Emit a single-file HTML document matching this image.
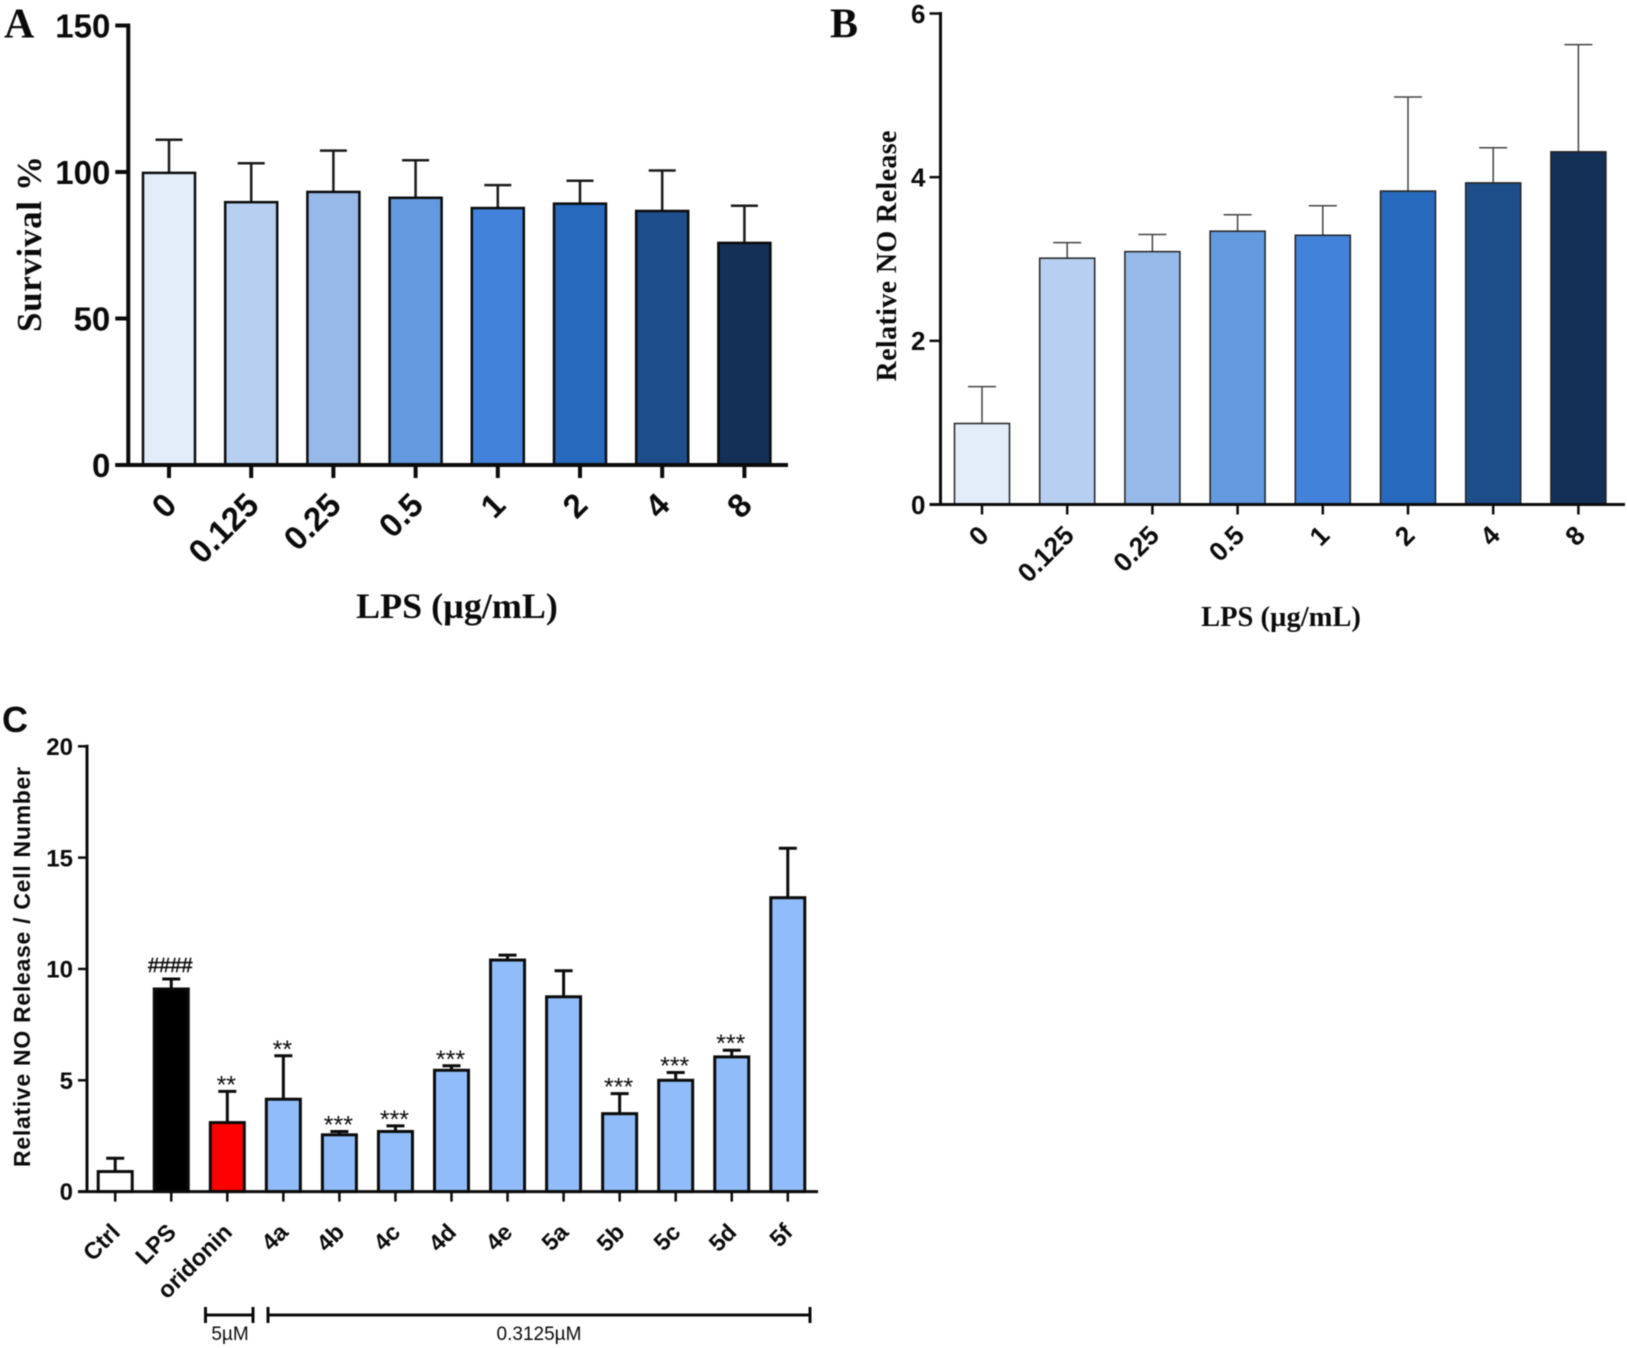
<!DOCTYPE html>
<html lang="en">
<head>
<meta charset="utf-8">
<title>Survival and NO release bar charts</title>
<style>
html,body{margin:0;padding:0;background:#fff;width:1627px;height:1348px;overflow:hidden}
svg{display:block;filter:blur(0.4px)}
text{fill:#0b0b0b}
.sans{font-family:"Liberation Sans",sans-serif}
.serif{font-family:"Liberation Serif",serif}
</style>
</head>
<body>
<svg id="figure" width="1627" height="1348" viewBox="0 0 1627 1348" xmlns="http://www.w3.org/2000/svg">
  <rect x="0" y="0" width="1627" height="1348" fill="#fff"/>
  <text class="serif" font-weight="bold" font-size="42" x="4" y="37.5">A</text>
  <text class="serif" font-weight="bold" font-size="42" x="830" y="37.5">B</text>
  <text class="sans" font-weight="bold" font-size="36" x="2" y="732">C</text>
  <text class="serif" font-weight="bold" font-size="35" text-anchor="middle" textLength="176" lengthAdjust="spacing" transform="translate(41,244) rotate(-90)">Survival %</text>
  <text class="serif" font-weight="bold" font-size="36" text-anchor="middle" x="457" y="618">LPS (µg/mL)</text>
  <text class="serif" font-weight="bold" font-size="28" text-anchor="middle" textLength="251" lengthAdjust="spacing" transform="translate(896,256) rotate(-90)">Relative NO Release</text>
  <text class="serif" font-weight="bold" font-size="28.5" text-anchor="middle" x="1281" y="626">LPS (µg/mL)</text>
  <text class="sans" font-weight="bold" font-size="23" text-anchor="middle" textLength="400" lengthAdjust="spacing" transform="translate(30,967) rotate(-90)">Relative NO Release / Cell Number</text>
  <g stroke="#0b0b0b" stroke-width="3" fill="none">
    <path d="M205.5 1307V1323M205.5 1315H253M253 1307V1323"/>
  </g>
  <g stroke="#0b0b0b" stroke-width="3" fill="none">
    <path d="M268 1307V1323M268 1315H810M810 1307V1323"/>
  </g>
  <text class="sans" font-size="19" text-anchor="middle" x="230" y="1340">5µM</text>
  <text class="sans" font-size="19" text-anchor="middle" x="539" y="1340">0.3125µM</text>
</svg>
<script>
// Panel A data
var aCategories = ['0', '0.125', '0.25', '0.5', '1', '2', '4', '8'];
var aMeans = [99.7, 89.7, 93.2, 91.2, 87.7, 89.2, 86.7, 75.8];
var aErrorTops = [111, 103, 107.3, 104, 95.5, 97, 100.5, 88.5];
var aTickLabels = [0, 50, 100, 150];
// Panel B data
var bCategories = ['0', '0.125', '0.25', '0.5', '1', '2', '4', '8'];
var bMeans = [0.99, 3.01, 3.09, 3.34, 3.29, 3.83, 3.93, 4.31];
var bErrorTops = [1.44, 3.2, 3.3, 3.54, 3.65, 4.98, 4.36, 5.62];
var bTickLabels = [0, 2, 4, 6];
// Panel C data
var cCategories = ['Ctrl', 'LPS', 'oridonin', '4a', '4b', '4c', '4d', '4e', '5a', '5b', '5c', '5d', '5f'];
var cMeans = [0.9, 9.1, 3.1, 4.15, 2.55, 2.7, 5.45, 10.4, 8.75, 3.5, 5.0, 6.05, 13.2];
var cErrorTops = [1.5, 9.55, 4.5, 6.1, 2.7, 2.95, 5.65, 10.62, 9.92, 4.4, 5.35, 6.35, 15.42];
var cSignificance = ['', '####', '**', '**', '***', '***', '***', '', '', '***', '***', '***', ''];
var cTickLabels = [0, 5, 10, 15, 20];

var blueRamp = ['#e3edf9', '#b7cff0', '#97b9e9', '#6299df', '#4282da', '#2769bc', '#1d4e8a', '#143057'];
var compoundFill = '#90bdf9';
var cFills = ['#ffffff', '#000000', '#ff0000'];

var svg = document.getElementById('figure');
var NS = 'http://www.w3.org/2000/svg';

function mk(tag, attrs, parent) {
  var el = document.createElementNS(NS, tag);
  for (var k in attrs) el.setAttribute(k, attrs[k]);
  (parent || svg).appendChild(el);
  return el;
}

function drawPanel(p) {
  var vMax = p.ticks[p.ticks.length - 1];
  function yPos(v) { return p.zeroY - (v / vMax) * (p.zeroY - p.topY); }
  function xPos(i) { return p.firstX + i * p.stepX; }

  var group = mk('g', {});
  
  

  p.means.forEach(function (v, i) {
    var cx = xPos(i);
    var err = mk('path', {
      d: 'M' + cx + ' ' + yPos(v) + 'V' + yPos(p.errs[i]) + 'M' + (cx - p.capW / 2) + ' ' + yPos(p.errs[i]) + 'H' + (cx + p.capW / 2),
      fill: 'none', stroke: p.errColor, 'stroke-width': p.errW
    }, group);
    
    

    var bar = mk('rect', {
      x: cx - p.barW / 2, y: yPos(v), width: p.barW, height: p.zeroY - yPos(v),
      fill: p.fill(i), stroke: p.barStroke, 'stroke-width': p.barSW
    }, group);
    
    

    var tick = mk('line', {
      x1: cx, x2: cx, y1: p.zeroY, y2: p.zeroY + p.xTickLen,
      stroke: '#0b0b0b', 'stroke-width': p.tickW
    }, group);
    
    

    var lx = cx + p.xLabelDx, ly = p.zeroY + p.xLabelDy;
    var label = mk('text', {
      'class': 'sans', 'font-weight': 'bold', 'font-size': p.xFont, 'text-anchor': 'end',
      transform: 'translate(' + lx + ',' + ly + ') rotate(-45)'
    }, group);
    label.textContent = p.cats[i];
    
    

    if (p.marks && p.marks[i]) {
      var isHash = p.marks[i] === '####';
      var mark = mk('text', {
        'class': 'sans', 'font-size': isHash ? p.hashFont : p.markFont, 'text-anchor': 'middle',
        stroke: isHash ? '#0b0b0b' : 'none', 'stroke-width': isHash ? 0.5 : 0,
        x: cx - 1, y: yPos(p.errs[i]) + (isHash ? -7 : 2)
      }, group);
      mark.textContent = p.marks[i];
      
      
    }
  });

  p.ticks.forEach(function (t) {
    var yt = yPos(t);
    var tick = mk('line', {
      x1: p.axisX, x2: p.axisX - p.yTickLen, y1: yt, y2: yt,
      stroke: '#0b0b0b', 'stroke-width': p.tickW
    }, group);
    
    

    var label = mk('text', {
      'class': 'sans', 'font-weight': 'bold', 'font-size': p.yFont, 'text-anchor': 'end',
      x: p.axisX - p.yLabelGap, y: yt + p.yFont * 0.36
    }, group);
    label.textContent = t;
    
    
  });

  var yAxis = mk('line', {
    x1: p.axisX, x2: p.axisX, y1: p.topY - p.axisW / 2, y2: p.zeroY,
    stroke: '#0b0b0b', 'stroke-width': p.axisW
  }, group);
  
  

  var xAxis = mk('line', {
    x1: p.axisX - p.yTickLen, x2: p.axisEnd, y1: p.zeroY, y2: p.zeroY,
    stroke: '#0b0b0b', 'stroke-width': p.axisW
  }, group);
  
  
}

drawPanel({
  id: 'panel-a', cats: aCategories, means: aMeans, errs: aErrorTops, ticks: aTickLabels,
  fill: function (i) { return blueRamp[i]; },
  topY: 25.5, zeroY: 465, axisX: 128.3, axisEnd: 788, firstX: 169, stepX: 82.2,
  barW: 52, barSW: 2.5, barStroke: '#0b0b0b', capW: 27, errW: 2.5, errColor: '#1a1a1a',
  tickW: 4, axisW: 4, xTickLen: 13, yTickLen: 13, xFont: 33, yFont: 33, yLabelGap: 18,
  xLabelDx: 9.5, xLabelDy: 42
});

drawPanel({
  id: 'panel-b', cats: bCategories, means: bMeans, errs: bErrorTops, ticks: bTickLabels,
  fill: function (i) { return blueRamp[i]; },
  topY: 13.5, zeroY: 504.5, axisX: 940.5, axisEnd: 1625, firstX: 982, stepX: 85.2,
  barW: 55, barSW: 1.5, barStroke: '#222', capW: 28, errW: 1.5, errColor: '#444',
  tickW: 2.5, axisW: 3, xTickLen: 10, yTickLen: 11, xFont: 26.5, yFont: 26, yLabelGap: 15,
  xLabelDx: 8.3, xLabelDy: 32.5
});

drawPanel({
  id: 'panel-c', cats: cCategories, means: cMeans, errs: cErrorTops, ticks: cTickLabels,
  fill: function (i) { return i < cFills.length ? cFills[i] : compoundFill; },
  marks: cSignificance, markFont: 25, hashFont: 20,
  topY: 746.3, zeroY: 1191.6, axisX: 87, axisEnd: 818, firstX: 115.2, stepX: 56.05,
  barW: 34, barSW: 3, barStroke: '#0b0b0b', capW: 18, errW: 3, errColor: '#0b0b0b',
  tickW: 2.5, axisW: 3, xTickLen: 10, yTickLen: 9, xFont: 23.5, yFont: 24, yLabelGap: 14,
  xLabelDx: 6.2, xLabelDy: 42
});
</script>
</body>
</html>
